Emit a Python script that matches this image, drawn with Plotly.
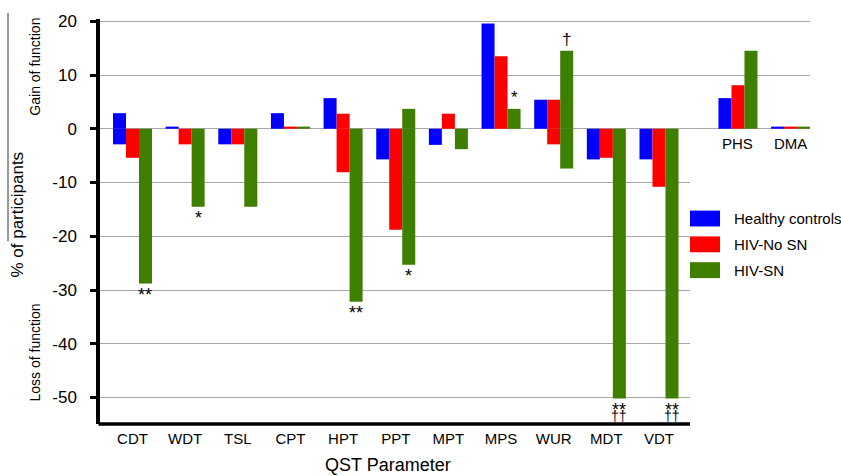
import plotly.graph_objects as go

# ---------------- data ----------------
categories = ["CDT", "WDT", "TSL", "CPT", "HPT", "PPT", "MPT", "MPS", "WUR", "MDT", "VDT", "PHS", "DMA"]
series_names = ["Healthy controls", "HIV-No SN", "HIV-SN"]

healthy_gain = [2.9, 0.4, 0, 2.9, 5.7, 0, 0, 19.6, 5.4, 0, 0, 5.7, 0.4]
healthy_loss = [-2.9, 0, -2.9, 0, 0, -5.7, -3.0, 0, 0, -5.7, -5.7, 0, 0]
nosn_gain = [0, 0, 0, 0.4, 2.8, 0, 2.8, 13.5, 5.4, 0, 0, 8.1, 0.4]
nosn_loss = [-5.4, -2.9, -2.9, 0, -8.1, -18.8, 0, 0, -2.9, -5.4, -10.8, 0, 0]
sn_gain = [0, 0, 0, 0.4, 0, 3.7, 0, 3.7, 14.5, 0, 0, 14.5, 0.4]
sn_loss = [-28.8, -14.5, -14.5, 0, -32.2, -25.3, -3.8, 0, -7.4, -50.2, -50.2, 0, 0]

# significance marks on HIV-SN bars
sig_below_cats = ["CDT", "WDT", "HPT", "PPT", "MDT", "VDT"]
sig_below_text = ["**", "*", "**", "*", "**", "**"]
dagger_below_cats = ["MDT", "VDT"]
dagger_below_text = ["††", "††"]
sig_above_cats = ["MPS", "WUR"]
sig_above_text = ["*", "†"]

y_ticks = [20, 10, 0, -10, -20, -30, -40, -50]

# ---------------- layout helpers ----------------
W, H = 841, 476
L, R, T, B = 100, 31, 16, 52
PW, PH = W - L - R, H - T - B
FONT = "Liberation Sans, Arial, Helvetica, sans-serif"
colors = ["#0000ff", "#ff0000", "#3f7f00"]

# category positions (gap of 1.5 before PHS)
xpos = list(range(11)) + [11.5, 12.5]
xpos_of = dict(zip(categories, xpos))
XR = [-0.617, 12.868]
YR = [-54.93, 20.42]

def px(x):
    return (x - L) / PW

def py(y):
    return (H - B - y) / PH

gains = [healthy_gain, nosn_gain, sn_gain]
losses = [healthy_loss, nosn_loss, sn_loss]

fig = go.Figure()
for i, name in enumerate(series_names):
    fig.add_trace(go.Bar(x=xpos, y=gains[i], name=name, offsetgroup=str(i),
                         marker=dict(color=colors[i], line=dict(width=0)),
                         showlegend=False))
    fig.add_trace(go.Bar(x=xpos, y=losses[i], name=name, offsetgroup=str(i),
                         marker=dict(color=colors[i], line=dict(width=0)),
                         showlegend=False))

bar_w = (1 - 0.259) / 3
green_off = bar_w  # offset of third bar centre from category centre

def txt(size):
    return dict(size=size, color="black", family=FONT)

annotations = []
for c, t in zip(sig_below_cats, sig_below_text):
    i = categories.index(c)
    annotations.append(dict(x=xpos_of[c] + green_off, y=sn_loss[i], text=t, showarrow=False,
                            xref="x", yref="y", xanchor="center", yanchor="top", yshift=1,
                            font=txt(18)))
for c, t in zip(dagger_below_cats, dagger_below_text):
    i = categories.index(c)
    annotations.append(dict(x=xpos_of[c] + green_off, y=sn_loss[i], text=t, showarrow=False,
                            xref="x", yref="y", xanchor="center", yanchor="top", yshift=-7,
                            font=txt(14)))
for c, t in zip(sig_above_cats, sig_above_text):
    i = categories.index(c)
    annotations.append(dict(x=xpos_of[c] + green_off, y=sn_gain[i], text=t, showarrow=False,
                            xref="x", yref="y", xanchor="center", yanchor="bottom", yshift=0,
                            font=txt(17)))

# PHS / DMA labels inside the plot
for c in ["PHS", "DMA"]:
    annotations.append(dict(x=xpos_of[c], y=py(141), xref="x", yref="paper", text=c,
                            xanchor="center", yanchor="middle",
                            showarrow=False, font=txt(15)))

def side_label(x, y, text, size, angle=0, xanchor="center"):
    return dict(x=px(x), y=py(y), xref="paper", yref="paper", text=text, textangle=angle,
                xanchor=xanchor, yanchor="middle", showarrow=False, font=txt(size))

annotations += [
    side_label(35, 64, "Gain of function", 14, -90),
    side_label(35, 352, "Loss of function", 14, -90),
    side_label(18, 213, "% of participants", 17, -90),
    side_label(388, 465, "QST Parameter", 18),
]

shapes = [
    # cover gridlines under legend area
    dict(type="rect", xref="paper", yref="paper", x0=px(690), x1=1.0, y0=py(424), y1=py(170),
         fillcolor="white", line=dict(width=0), layer="above"),
    # bottom axis line
    dict(type="line", xref="paper", yref="paper", x0=px(98.5), x1=px(690), y0=0, y1=0,
         line=dict(color="black", width=3.5), layer="above"),
    # bracket line by y label
    dict(type="line", xref="paper", yref="paper", x0=px(8), x1=px(8), y0=py(10), y1=py(240),
         line=dict(color="#333333", width=1)),
]

# custom legend
leg_y = [217, 243, 269]
for i, name in enumerate(series_names):
    shapes.append(dict(type="rect", xref="paper", yref="paper", x0=px(690), x1=px(720),
                       y0=py(leg_y[i] + 8), y1=py(leg_y[i] - 8),
                       fillcolor=colors[i], line=dict(width=0), layer="above"))
    annotations.append(side_label(732, leg_y[i], name, 15, 0, "left"))

fig.update_layout(
    width=W, height=H,
    margin=dict(l=L, r=R, t=T, b=B, pad=0),
    paper_bgcolor="white", plot_bgcolor="white",
    barmode="group", bargap=0.259, bargroupgap=0,
    font=dict(family=FONT, color="black"),
    xaxis=dict(range=XR, tickmode="array", tickvals=xpos[:11], ticktext=categories[:11],
               showgrid=False, zeroline=False, showline=False, ticks="",
               tickfont=txt(15), ticklabelstandoff=4),
    yaxis=dict(range=YR, tickmode="array", tickvals=y_ticks, ticktext=[str(v) for v in y_ticks],
               showgrid=True, gridcolor="#a8a8a8", gridwidth=1,
               zeroline=True, zerolinecolor="#a8a8a8", zerolinewidth=1,
               showline=True, linecolor="black", linewidth=3.5,
               ticks="outside", ticklen=6, tickwidth=3, tickcolor="black",
               tickfont=txt(17), ticklabelstandoff=10),
    annotations=annotations,
    shapes=shapes,
    showlegend=False,
)

fig.write_html("out.html", config={"displayModeBar": False},
               post_script="document.body.style.margin='0';")
